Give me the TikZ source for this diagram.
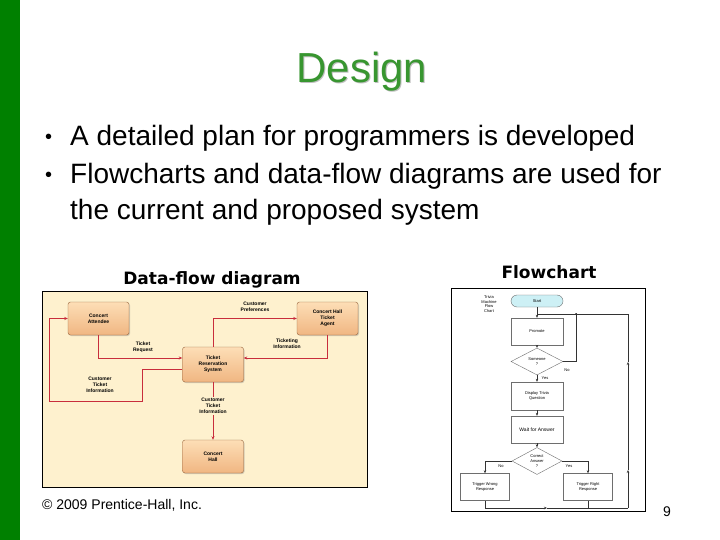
\documentclass[tikz,border=0pt]{standalone}
\usepackage{fontspec}
\setmainfont{Liberation Sans}
\newfontfamily\headfont{DejaVu Sans}
\usetikzlibrary{arrows.meta}
\usetikzlibrary{shapes.geometric}
\usetikzlibrary{shadows}

\definecolor{barGreen}{RGB}{0,128,0}
\definecolor{titleGreen}{RGB}{56,150,48}
\definecolor{dfdBack}{RGB}{254,241,206}
\definecolor{dfdTop}{RGB}{253,222,182}
\definecolor{dfdBot}{RGB}{240,182,130}
\definecolor{dfdEdge}{RGB}{150,100,60}
\definecolor{dfdRed}{RGB}{200,45,60}
\definecolor{fcGray}{RGB}{110,110,110}
\definecolor{fcCyan}{RGB}{205,240,245}

\tikzset{
	dfdbox/.style={draw=dfdEdge,rounded corners=2.5pt,top color=dfdTop,bottom color=dfdBot,
		minimum width=61pt,minimum height=33pt,align=center,inner sep=1pt,
		font=\fontsize{5}{6}\selectfont\bfseries,
		drop shadow={shadow xshift=1pt,shadow yshift=-1pt,opacity=.35}},
	dfdlabel/.style={align=center,font=\fontsize{5}{6}\selectfont\bfseries,inner sep=1pt},
	flow/.style={draw=dfdRed,line width=.8pt,-{Stealth[length=3.5pt,width=3pt]}},
	fcbox/.style={draw=fcGray,line width=.4pt,fill=white,minimum width=52pt,minimum height=27pt,
		align=center,inner sep=1pt,font=\fontsize{4}{4.8}\selectfont},
	fcdiamond/.style={diamond,draw=fcGray,line width=.4pt,fill=white,minimum width=52pt,
		minimum height=27pt,aspect=2,inner sep=0pt,align=center,font=\fontsize{4}{4.8}\selectfont},
	fcline/.style={draw=black!80,line width=.5pt},
	fcarrow/.style={fcline,-{Stealth[length=3pt,width=2.5pt]}},
	fclabel/.style={font=\fontsize{4}{4.8}\selectfont,inner sep=0pt,align=center}
}

\begin{document}
\begin{tikzpicture}[x=1pt,y=-1pt]
		\useasboundingbox (0,0) rectangle (720,540);
		\fill[white] (0,0) rectangle (720,540);
		\fill[barGreen] (0,0) rectangle (20,540);
		
		% title and bullets
		\node[anchor=base,text=black!25,font=\fontsize{42}{46}\selectfont] (titleshade) at (363,84) {Design};
		\node[anchor=base,text=titleGreen,font=\fontsize{42}{46}\selectfont] (title) at (362,83) {Design};
		\node[anchor=base west,inner sep=0pt,font=\fontsize{20}{24}\selectfont] (dot1) at (45,144) {•};
		\node[anchor=base west,inner sep=0pt,font=\fontsize{28}{34}\selectfont] (line1) at (70,146) {A detailed plan for programmers is developed};
		\node[anchor=base west,inner sep=0pt,font=\fontsize{20}{24}\selectfont] (dot2) at (45,182) {•};
		\node[anchor=base west,inner sep=0pt,font=\fontsize{28}{34}\selectfont] (line2) at (70,184) {Flowcharts and data-flow diagrams are used for};
		\node[anchor=base west,inner sep=0pt,font=\fontsize{28}{34}\selectfont] (line3) at (70,220) {the current and proposed system};
		
		\node[anchor=base,font=\headfont\bfseries\fontsize{17}{19}\selectfont] (dfdtitle) at (212,284) {Data-flow diagram};
		\node[anchor=base,font=\headfont\bfseries\fontsize{17}{19}\selectfont] (fctitle) at (549,278) {Flowchart};
		
		% data-flow diagram
		\draw[black,line width=.8pt,fill=dfdBack] (42,291) rectangle (367,487);
		\node[dfdbox] (attendee) at (98.5,318.5) {Concert\\Attendee};
		\node[dfdbox] (agent) at (327.5,318.5) {Concert Hall\\Ticket\\Agent};
		\node[dfdbox,minimum height=35pt] (trs) at (213,364.5) {Ticket\\Reservation\\System};
		\node[dfdbox] (hall) at (213,456.5) {Concert\\Hall};
		
		\coordinate (loopA) at (142,401);
		\coordinate (loopB) at (49,401);
		\draw[flow] (attendee.south) |- ([yshift=6.5pt]trs.west);
		\draw[flow] (agent.south) |- ([yshift=6.5pt]trs.east);
		\draw[flow] (trs.north) |- (agent.west);
		\draw[flow] ([yshift=-4.5pt]trs.west) -| (loopA) -- (loopB) |- (attendee.west);
		\draw[flow] (trs.south) -- (hall.north);
		
		\node[dfdlabel] (reqlabel) at (143,347) {Ticket\\Request};
		\node[dfdlabel] (infolabel) at (287,344) {Ticketing\\Information};
		\node[dfdlabel] (preflabel) at (255,307) {Customer\\Preferences};
		\node[dfdlabel] (custlabel) at (100,385) {Customer\\Ticket\\Information};
		\node[dfdlabel,fill=dfdBack] (halllabel) at (213,406) {Customer\\Ticket\\Information};
		
		% flowchart
		\draw[black,line width=.8pt] (451,288) rectangle (645,511);
		\node[fclabel] (chartname) at (489,304) {Trivia\\Machine\\Flow\\Chart};
		\node[fcbox,fill=fcCyan,rounded corners=6pt,minimum height=12pt] (start) at (537,301) {Start};
		\node[fcbox] (promote) at (537,331.5) {Promote};
		\node[fcdiamond] (someone) at (537,361.5) {Someone\\?};
		\node[fcbox,minimum height=28pt] (display) at (537,396) {Display Trivia\\Question};
		\node[fcbox,font=\fontsize{5}{6}\selectfont] (wait) at (537,429.5) {Wait for Answer};
		\node[fcdiamond,minimum width=50pt] (correct) at (537,461) {Correct\\Answer\\?};
		\node[fcbox,minimum width=49pt] (wrong) at (485,487) {Trigger Wrong\\Response};
		\node[fcbox,minimum width=49pt] (right) at (588,487) {Trigger Right\\Response};
		
		\coordinate (join) at (537,314);
		\coordinate (nodot) at (576,314);
		\coordinate (botL) at (485,508);
		\coordinate (botM) at (547,508);
		\coordinate (botR) at (628,508);
		\coordinate (sideA) at (628,470);
		\coordinate (sideB) at (628,362);
		\coordinate (topR) at (628,314);
		
		\draw[fcarrow] (start) -- (promote);
		\draw[fcarrow] (promote) -- (someone);
		\draw[fcarrow] (someone) -- (display);
		\draw[fcarrow] (display) -- (wait);
		\draw[fcarrow] (wait) -- (correct);
		\draw[fcarrow] (correct.west) -| (wrong.north);
		\draw[fcarrow] (correct.east) -| (right.north);
		\draw[fcline] (someone.east) -| (nodot);
		\fill (nodot) circle (1pt);
		\draw[fcline] (wrong.south) -- (botL);
		\draw[fcline] (right.south) -- (right.south |- botL);
		\draw[fcarrow] (botL) -- (botM);
		\draw[fcline] (botM) -- (botR);
		\draw[fcarrow] (botR) -- (sideA);
		\draw[fcarrow] (sideA) -- (sideB);
		\draw[fcline] (sideB) -- (topR) -- (join);
		
		\node[fclabel] (nolabel) at (567,370) {No};
		\node[fclabel] (yeslabel) at (545,378) {Yes};
		\node[fclabel] (nolabel2) at (501,466) {No};
		\node[fclabel] (yeslabel2) at (569,466) {Yes};
		
		% footer
		\node[anchor=base west,inner sep=0pt,font=\fontsize{14}{16}\selectfont] (copy) at (42,509) {© 2009 Prentice-Hall, Inc.};
		\node[anchor=base,inner sep=0pt,font=\fontsize{14}{16}\selectfont] (page) at (667,516) {9};
\end{tikzpicture}
\end{document}
